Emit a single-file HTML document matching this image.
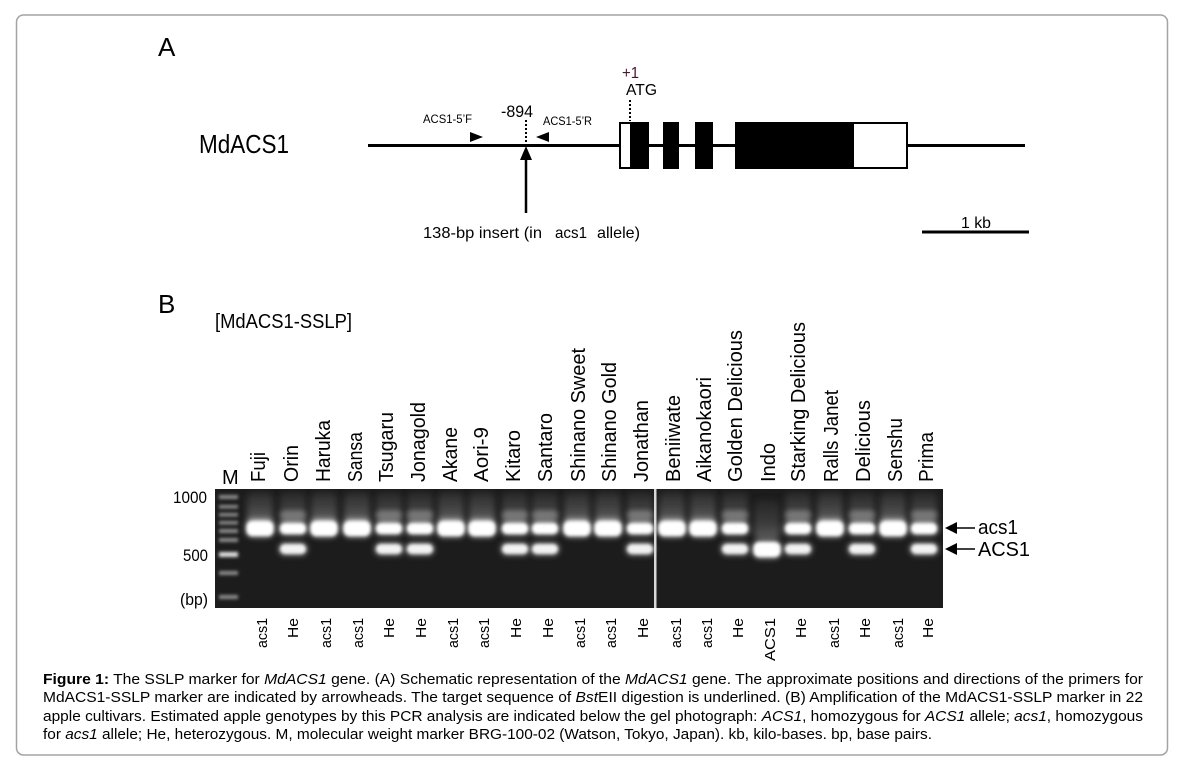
<!DOCTYPE html>
<html>
<head>
<meta charset="utf-8">
<style>
html,body{margin:0;padding:0;background:#fff;}
svg{display:block;}
text{font-family:"Liberation Sans",Arial,sans-serif;fill:#000;}
</style>
</head>
<body>
<svg width="1180" height="774" viewBox="0 0 1180 774" xmlns="http://www.w3.org/2000/svg">
<defs>
  <filter id="b1" x="-50%" y="-50%" width="200%" height="200%"><feGaussianBlur stdDeviation="1.6"/></filter>
  <filter id="b2" x="-50%" y="-50%" width="200%" height="200%"><feGaussianBlur stdDeviation="2.6"/></filter>
  <filter id="b3" x="-50%" y="-50%" width="200%" height="200%"><feGaussianBlur stdDeviation="3.2"/></filter>
  <linearGradient id="sg" x1="0" y1="0" x2="0" y2="1">
    <stop offset="0" stop-color="#2a2a2a"/>
    <stop offset="0.6" stop-color="#4a4a4a"/>
    <stop offset="1" stop-color="#7a7a7a"/>
  </linearGradient>
  <clipPath id="gelclip"><rect x="215" y="489" width="728" height="119"/></clipPath>
  <g id="laneA">
    <rect x="-13" y="492" width="26" height="34" rx="6" fill="url(#sg)" filter="url(#b3)"/>
    <rect x="-15" y="519" width="30" height="19" rx="8" fill="#fff" opacity="0.45" filter="url(#b2)"/>
    <rect x="-13.5" y="521" width="27" height="15" rx="6" fill="#fff" filter="url(#b1)"/>
  </g>
  <g id="laneH">
    <rect x="-13" y="492" width="26" height="32" rx="6" fill="url(#sg)" filter="url(#b3)" opacity="0.85"/>
    <rect x="-12.5" y="511" width="25" height="8" rx="4" fill="#7a7a7a" filter="url(#b2)"/>
    <rect x="-15" y="521" width="30" height="15" rx="7" fill="#fff" opacity="0.4" filter="url(#b2)"/>
    <rect x="-13" y="523" width="26" height="11" rx="5" fill="#fff" filter="url(#b1)"/>
    <rect x="-15" y="542" width="30" height="14" rx="7" fill="#fff" opacity="0.35" filter="url(#b2)"/>
    <rect x="-13" y="544" width="26" height="10" rx="5" fill="#f2f2f2" filter="url(#b1)"/>
  </g>
  <g id="laneC">
    <rect x="-13" y="500" width="26" height="40" rx="6" fill="url(#sg)" filter="url(#b3)" opacity="0.7"/>
    <rect x="-15" y="540" width="30" height="19" rx="8" fill="#fff" opacity="0.45" filter="url(#b2)"/>
    <rect x="-13.5" y="542" width="27" height="15" rx="6" fill="#fff" filter="url(#b1)"/>
  </g>
</defs>

<!-- outer frame -->
<rect x="16.5" y="15" width="1151" height="740" rx="7" ry="7" fill="#fff" stroke="#a3a3a3" stroke-width="1.5"/>

<!-- ===== Panel A ===== -->
<text x="158" y="56" font-size="26">A</text>
<text x="199" y="153" font-size="26" textLength="90" lengthAdjust="spacingAndGlyphs">MdACS1</text>

<line x1="368" y1="145.5" x2="1025" y2="145.5" stroke="#000" stroke-width="3"/>

<text x="423" y="123" font-size="12" textLength="49" lengthAdjust="spacingAndGlyphs">ACS1-5’F</text>
<polygon points="470,132 470,142 483,137" fill="#000"/>
<text x="543" y="125" font-size="12" textLength="49" lengthAdjust="spacingAndGlyphs">ACS1-5’R</text>
<polygon points="549,132 549,142 536,137" fill="#000"/>

<text x="501" y="117" font-size="17" textLength="32" lengthAdjust="spacingAndGlyphs">-894</text>
<line x1="526" y1="120" x2="526" y2="146" stroke="#000" stroke-width="2" stroke-dasharray="2,2"/>
<line x1="526" y1="156" x2="526" y2="213" stroke="#000" stroke-width="2.5"/>
<polygon points="526,146 520,160 532,160" fill="#000"/>

<text x="423" y="238" font-size="16" textLength="119" lengthAdjust="spacingAndGlyphs">138-bp insert (in</text>
<text x="555" y="238" font-size="16" textLength="32" lengthAdjust="spacingAndGlyphs">acs1</text>
<text x="597" y="238" font-size="16" textLength="43" lengthAdjust="spacingAndGlyphs">allele)</text>

<text x="622" y="78" font-size="16" textLength="17" lengthAdjust="spacingAndGlyphs" style="fill:#4b1530">+1</text>
<text x="626" y="95" font-size="16" textLength="31" lengthAdjust="spacingAndGlyphs">ATG</text>
<line x1="630" y1="100" x2="630" y2="121" stroke="#000" stroke-width="2" stroke-dasharray="2,2"/>

<rect x="620" y="123" width="11" height="45" fill="#fff" stroke="#000" stroke-width="2"/>
<rect x="631" y="122" width="18" height="47" fill="#000"/>
<rect x="663" y="122" width="16" height="47" fill="#000"/>
<rect x="695" y="122" width="18" height="47" fill="#000"/>
<rect x="735" y="122" width="118" height="47" fill="#000"/>
<rect x="853" y="123" width="54" height="45" fill="#fff" stroke="#000" stroke-width="2"/>

<text x="961" y="228" font-size="16" textLength="30" lengthAdjust="spacingAndGlyphs">1 kb</text>
<line x1="922" y1="232" x2="1029" y2="232" stroke="#000" stroke-width="3"/>

<!-- ===== Panel B ===== -->
<text x="158" y="313" font-size="26">B</text>
<text x="215" y="328" font-size="20" textLength="137" lengthAdjust="spacingAndGlyphs">[MdACS1-SSLP]</text>

<rect x="215" y="489" width="728" height="119" fill="#1c1c1c"/>
<g clip-path="url(#gelclip)">
  <g fill="#8e8e8e" filter="url(#b1)">
    <rect x="219" y="495" width="19" height="4"/>
    <rect x="219" y="505" width="19" height="3.5"/>
    <rect x="219" y="513" width="19" height="3.5"/>
    <rect x="219" y="521" width="19" height="3.5"/>
    <rect x="219" y="529" width="19" height="4"/>
    <rect x="219" y="538" width="19" height="4"/>
    <rect x="219" y="552" width="19" height="5" fill="#e0e0e0"/>
    <rect x="219" y="571" width="19" height="4"/>
    <rect x="219" y="595" width="19" height="4"/>
  </g>
  <use href="#laneA" transform="translate(260,0)"/>
  <use href="#laneH" transform="translate(293,0)"/>
  <use href="#laneA" transform="translate(324,0)"/>
  <use href="#laneA" transform="translate(357,0)"/>
  <use href="#laneH" transform="translate(389,0)"/>
  <use href="#laneH" transform="translate(420,0)"/>
  <use href="#laneA" transform="translate(451,0)"/>
  <use href="#laneA" transform="translate(482,0)"/>
  <use href="#laneH" transform="translate(515,0)"/>
  <use href="#laneH" transform="translate(545,0)"/>
  <use href="#laneA" transform="translate(577,0)"/>
  <use href="#laneA" transform="translate(608,0)"/>
  <use href="#laneH" transform="translate(640,0)"/>
  <use href="#laneA" transform="translate(672,0)"/>
  <use href="#laneA" transform="translate(703,0)"/>
  <use href="#laneH" transform="translate(735,0)"/>
  <use href="#laneC" transform="translate(767,0)"/>
  <use href="#laneH" transform="translate(798,0)"/>
  <use href="#laneA" transform="translate(830,0)"/>
  <use href="#laneH" transform="translate(862,0)"/>
  <use href="#laneA" transform="translate(893,0)"/>
  <use href="#laneH" transform="translate(924,0)"/>
</g>
<rect x="654" y="489" width="2.5" height="119" fill="#d8d8d8"/>

<text x="222" y="484" font-size="20">M</text>
<text x="173" y="503" font-size="17" textLength="34" lengthAdjust="spacingAndGlyphs">1000</text>
<text x="183" y="561" font-size="17" textLength="25" lengthAdjust="spacingAndGlyphs">500</text>
<text x="180" y="605" font-size="17" textLength="28" lengthAdjust="spacingAndGlyphs">(bp)</text>

<polygon points="945,528 957,522 957,534" fill="#000"/>
<line x1="956" y1="528" x2="975" y2="528" stroke="#000" stroke-width="1.5"/>
<text x="978" y="534" font-size="20" textLength="40" lengthAdjust="spacingAndGlyphs">acs1</text>
<polygon points="945,549 957,543 957,555" fill="#000"/>
<line x1="956" y1="549" x2="975" y2="549" stroke="#000" stroke-width="1.5"/>
<text x="978" y="556" font-size="20" textLength="52" lengthAdjust="spacingAndGlyphs">ACS1</text>

<g font-size="20">
  <text transform="translate(265,482) rotate(-90)" textLength="30" lengthAdjust="spacingAndGlyphs">Fuji</text>
  <text transform="translate(298,482) rotate(-90)" textLength="37" lengthAdjust="spacingAndGlyphs">Orin</text>
  <text transform="translate(330,482) rotate(-90)" textLength="62" lengthAdjust="spacingAndGlyphs">Haruka</text>
  <text transform="translate(362,482) rotate(-90)" textLength="50" lengthAdjust="spacingAndGlyphs">Sansa</text>
  <text transform="translate(393,482) rotate(-90)" textLength="70" lengthAdjust="spacingAndGlyphs">Tsugaru</text>
  <text transform="translate(425,482) rotate(-90)" textLength="80" lengthAdjust="spacingAndGlyphs">Jonagold</text>
  <text transform="translate(457,482) rotate(-90)" textLength="55" lengthAdjust="spacingAndGlyphs">Akane</text>
  <text transform="translate(488,482) rotate(-90)" textLength="55" lengthAdjust="spacingAndGlyphs">Aori-9</text>
  <text transform="translate(520,482) rotate(-90)" textLength="52" lengthAdjust="spacingAndGlyphs">Kitaro</text>
  <text transform="translate(552,482) rotate(-90)" textLength="69" lengthAdjust="spacingAndGlyphs">Santaro</text>
  <text transform="translate(585,482) rotate(-90)" textLength="134" lengthAdjust="spacingAndGlyphs">Shinano Sweet</text>
  <text transform="translate(616,482) rotate(-90)" textLength="120" lengthAdjust="spacingAndGlyphs">Shinano Gold</text>
  <text transform="translate(648,482) rotate(-90)" textLength="82" lengthAdjust="spacingAndGlyphs">Jonathan</text>
  <text transform="translate(680,482) rotate(-90)" textLength="87" lengthAdjust="spacingAndGlyphs">Beniiwate</text>
  <text transform="translate(711,482) rotate(-90)" textLength="105" lengthAdjust="spacingAndGlyphs">Aikanokaori</text>
  <text transform="translate(742,482) rotate(-90)" textLength="152" lengthAdjust="spacingAndGlyphs">Golden Delicious</text>
  <text transform="translate(775,482) rotate(-90)" textLength="39" lengthAdjust="spacingAndGlyphs">Indo</text>
  <text transform="translate(805,482) rotate(-90)" textLength="160" lengthAdjust="spacingAndGlyphs">Starking Delicious</text>
  <text transform="translate(838,482) rotate(-90)" textLength="92" lengthAdjust="spacingAndGlyphs">Ralls Janet</text>
  <text transform="translate(870,482) rotate(-90)" textLength="82" lengthAdjust="spacingAndGlyphs">Delicious</text>
  <text transform="translate(902,482) rotate(-90)" textLength="64" lengthAdjust="spacingAndGlyphs">Senshu</text>
  <text transform="translate(933,482) rotate(-90)" textLength="50" lengthAdjust="spacingAndGlyphs">Prima</text>
</g>

<g font-size="15" text-anchor="end">
  <text transform="translate(267,618) rotate(-90)" textLength="30" lengthAdjust="spacingAndGlyphs">acs1</text>
  <text transform="translate(298,618) rotate(-90)" textLength="20" lengthAdjust="spacingAndGlyphs">He</text>
  <text transform="translate(331,618) rotate(-90)" textLength="30" lengthAdjust="spacingAndGlyphs">acs1</text>
  <text transform="translate(363,618) rotate(-90)" textLength="30" lengthAdjust="spacingAndGlyphs">acs1</text>
  <text transform="translate(394,618) rotate(-90)" textLength="20" lengthAdjust="spacingAndGlyphs">He</text>
  <text transform="translate(426,618) rotate(-90)" textLength="20" lengthAdjust="spacingAndGlyphs">He</text>
  <text transform="translate(458,618) rotate(-90)" textLength="30" lengthAdjust="spacingAndGlyphs">acs1</text>
  <text transform="translate(489,618) rotate(-90)" textLength="30" lengthAdjust="spacingAndGlyphs">acs1</text>
  <text transform="translate(521,618) rotate(-90)" textLength="20" lengthAdjust="spacingAndGlyphs">He</text>
  <text transform="translate(553,618) rotate(-90)" textLength="20" lengthAdjust="spacingAndGlyphs">He</text>
  <text transform="translate(585,618) rotate(-90)" textLength="30" lengthAdjust="spacingAndGlyphs">acs1</text>
  <text transform="translate(616,618) rotate(-90)" textLength="30" lengthAdjust="spacingAndGlyphs">acs1</text>
  <text transform="translate(648,618) rotate(-90)" textLength="20" lengthAdjust="spacingAndGlyphs">He</text>
  <text transform="translate(681,618) rotate(-90)" textLength="30" lengthAdjust="spacingAndGlyphs">acs1</text>
  <text transform="translate(712,618) rotate(-90)" textLength="30" lengthAdjust="spacingAndGlyphs">acs1</text>
  <text transform="translate(743,618) rotate(-90)" textLength="20" lengthAdjust="spacingAndGlyphs">He</text>
  <text transform="translate(775,618) rotate(-90)" textLength="43" lengthAdjust="spacingAndGlyphs">ACS1</text>
  <text transform="translate(806,618) rotate(-90)" textLength="20" lengthAdjust="spacingAndGlyphs">He</text>
  <text transform="translate(839,618) rotate(-90)" textLength="30" lengthAdjust="spacingAndGlyphs">acs1</text>
  <text transform="translate(870,618) rotate(-90)" textLength="20" lengthAdjust="spacingAndGlyphs">He</text>
  <text transform="translate(903,618) rotate(-90)" textLength="30" lengthAdjust="spacingAndGlyphs">acs1</text>
  <text transform="translate(933,618) rotate(-90)" textLength="20" lengthAdjust="spacingAndGlyphs">He</text>
</g>

<g font-size="15">
  <text x="43" y="684" textLength="1100" lengthAdjust="spacingAndGlyphs"><tspan font-weight="bold">Figure 1:</tspan> The SSLP marker for <tspan font-style="italic">MdACS1</tspan> gene. (A) Schematic representation of the <tspan font-style="italic">MdACS1</tspan> gene. The approximate positions and directions of the primers for</text>
  <text x="43" y="702" textLength="1100" lengthAdjust="spacingAndGlyphs">MdACS1-SSLP marker are indicated by arrowheads. The target sequence of <tspan font-style="italic">Bst</tspan>EII digestion is underlined. (B) Amplification of the MdACS1-SSLP marker in 22</text>
  <text x="43" y="721" textLength="1100" lengthAdjust="spacingAndGlyphs">apple cultivars. Estimated apple genotypes by this PCR analysis are indicated below the gel photograph: <tspan font-style="italic">ACS1</tspan>, homozygous for <tspan font-style="italic">ACS1</tspan> allele; <tspan font-style="italic">acs1</tspan>, homozygous</text>
  <text x="43" y="739" textLength="889" lengthAdjust="spacingAndGlyphs">for <tspan font-style="italic">acs1</tspan> allele; He, heterozygous. M, molecular weight marker BRG-100-02 (Watson, Tokyo, Japan). kb, kilo-bases. bp, base pairs.</text>
</g>
</svg>
</body>
</html>
